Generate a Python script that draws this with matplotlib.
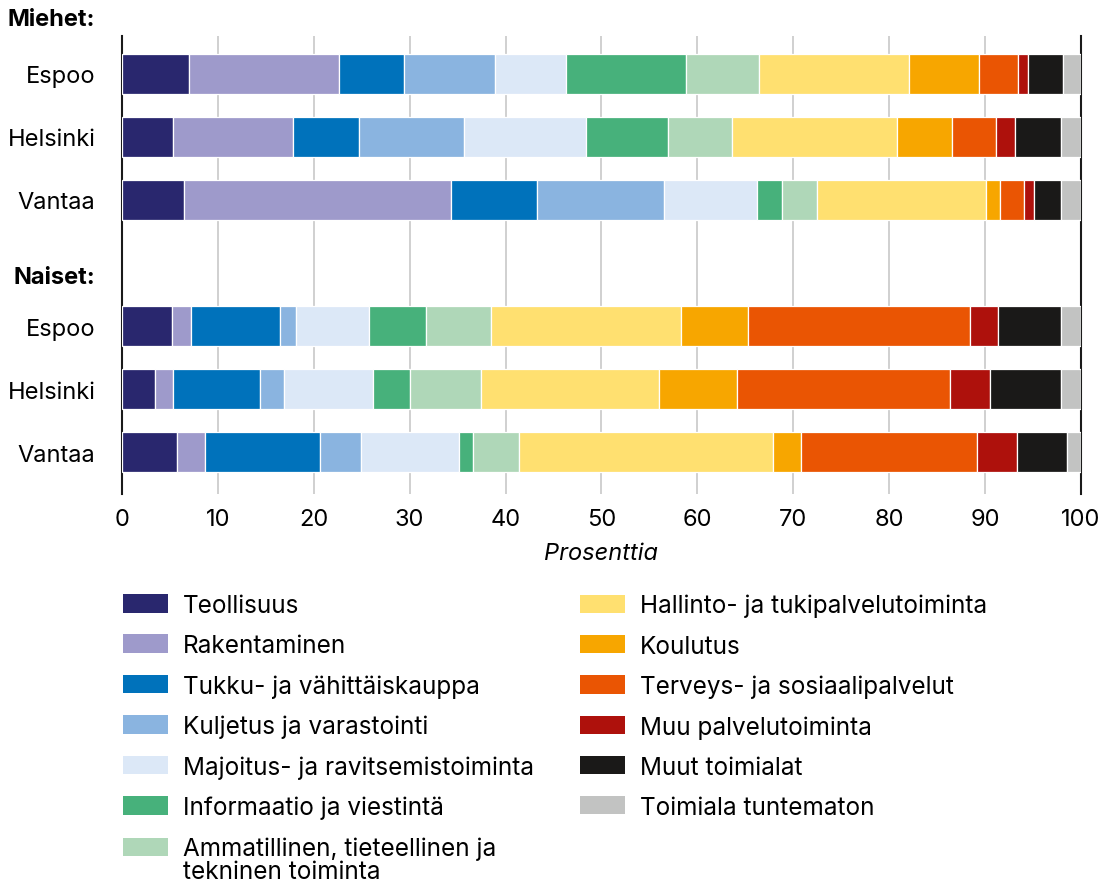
import matplotlib.pyplot as plt
from matplotlib.patches import Patch, Rectangle
from matplotlib.legend_handler import HandlerPatch
from matplotlib.transforms import blended_transform_factory

plt.rcParams["font.family"] = ["Inter", "DejaVu Sans"]

# categories (industries) in stacking order
industries = [
    "Teollisuus",
    "Rakentaminen",
    "Tukku- ja vähittäiskauppa",
    "Kuljetus ja varastointi",
    "Majoitus- ja ravitsemistoiminta",
    "Informaatio ja viestintä",
    "Ammatillinen, tieteellinen ja\ntekninen toiminta",
    "Hallinto- ja tukipalvelutoiminta",
    "Koulutus",
    "Terveys- ja sosiaalipalvelut",
    "Muu palvelutoiminta",
    "Muut toimialat",
    "Toimiala tuntematon",
]
colors = ["#29276e", "#9e9acb", "#0072bb", "#8ab4e0", "#dce8f7", "#47b17b",
          "#afd7b8", "#ffe070", "#f7a600", "#ea5503", "#ae110c", "#1a1918",
          "#c2c3c2"]

cities = ["Espoo", "Helsinki", "Vantaa"]

# shares in percent, one list per city, same order as industries
men_espoo = [7.0, 15.6, 6.8, 9.5, 7.4, 12.5, 7.6, 15.7, 7.3, 4.0, 1.1, 3.6, 1.9]
men_helsinki = [5.3, 12.5, 6.9, 11.0, 12.7, 8.5, 6.7, 17.2, 5.7, 4.6, 2.0, 4.8, 2.1]
men_vantaa = [6.5, 27.8, 9.0, 13.2, 9.7, 2.6, 3.7, 17.6, 1.5, 2.5, 1.0, 2.8, 2.1]
women_espoo = [5.2, 2.0, 9.3, 1.6, 7.7, 5.9, 6.8, 19.8, 7.0, 23.1, 2.9, 6.6, 2.1]
women_helsinki = [3.4, 1.9, 9.1, 2.5, 9.3, 3.8, 7.4, 18.6, 8.1, 22.2, 4.2, 7.4, 2.1]
women_vantaa = [5.7, 3.0, 12.0, 4.2, 10.2, 1.5, 4.8, 26.5, 2.9, 18.4, 4.1, 5.2, 1.5]

rows = [men_espoo, men_helsinki, men_vantaa, women_espoo, women_helsinki, women_vantaa]
row_labels = cities + cities
row_pos = [0, 1, 2, 4, 5, 6]

fig = plt.figure(figsize=(11, 8.87), dpi=100)
ax = fig.add_axes([0.1109, 0.4419, 0.8718, 0.5164])

for j, name in enumerate(industries):
    vals = [r[j] for r in rows]
    lefts = [sum(r[:j]) for r in rows]
    ax.barh(row_pos, vals, left=lefts, height=0.635, color=colors[j],
            edgecolor="white", linewidth=0.9, zorder=3)

ax.set_xlim(0, 100)
ax.set_ylim(6.667, -0.603)
ax.set_xticks(range(0, 101, 10))
ax.set_yticks(row_pos)
ax.set_yticklabels(row_labels)
ax.tick_params(axis="y", length=0, pad=19, labelsize=17)
ax.tick_params(axis="x", length=0, pad=10, labelsize=17)
ax.grid(axis="x", color="#c8c8c8", linewidth=1.2, zorder=0)
for s in ["top", "bottom"]:
    ax.spines[s].set_visible(False)
for s in ["left", "right"]:
    ax.spines[s].set_color("#1a1a1a")
    ax.spines[s].set_linewidth(1.5)
ax.set_xlabel("Prosenttia", fontsize=17, style="italic", labelpad=9)

# group headers
tr = blended_transform_factory(fig.transFigure, ax.transData)
ax.text(95 / 1100, -0.873, "Miehet:", transform=tr, ha="right", va="center",
        fontsize=17, fontweight="bold", clip_on=False)
ax.text(95 / 1100, 3.23, "Naiset:", transform=tr, ha="right", va="center",
        fontsize=17, fontweight="bold", clip_on=False)


# legend patch for the two-line entry sits next to its first line
def top_patch(legend, orig_handle, xdescent, ydescent, width, height, fontsize):
    return Rectangle((-xdescent, -ydescent + 9.5), width, height)


handles = [Patch(facecolor=c, edgecolor="none") for c in colors]
leg_kw = dict(frameon=False, fontsize=17.5, handlelength=1.85, handleheight=0.78,
              handletextpad=0.6, labelspacing=0.70, borderpad=0, borderaxespad=0,
              loc="upper left")
leg1 = fig.legend(handles[:7], industries[:7], bbox_to_anchor=(123 / 1100, 1 - 595 / 887),
                  handler_map={handles[6]: HandlerPatch(patch_func=top_patch)}, **leg_kw)
leg1.get_texts()[6].set_linespacing(1.05)
fig.legend(handles[7:], industries[7:], bbox_to_anchor=(580 / 1100, 1 - 595 / 887), **leg_kw)

fig.savefig("out.png", dpi=100)
